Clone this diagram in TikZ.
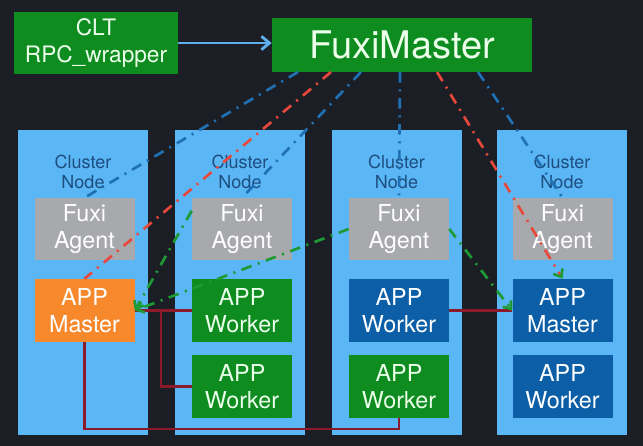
\documentclass[tikz,border=0pt]{standalone}
\usepackage{fontspec}
\setmainfont{TeX Gyre Heros}
\usetikzlibrary{arrows.meta,positioning}

\definecolor{bgdark}{HTML}{1B1E25}
\definecolor{colblue}{HTML}{5AB6F5}
\definecolor{agentgray}{HTML}{A8A9AC}
\definecolor{boxgreen}{HTML}{0E8C1F}
\definecolor{boxorange}{HTML}{F7882C}
\definecolor{boxblue}{HTML}{0C5EA6}
\definecolor{nodetext}{HTML}{1E4E80}
\definecolor{linkblue}{HTML}{2070B4}
\definecolor{linkred}{HTML}{E8483C}
\definecolor{linkgreen}{HTML}{1E9A34}
\definecolor{wirered}{HTML}{8C1A2A}
\definecolor{cltblue}{HTML}{5DAEEA}

\begin{document}
\begin{tikzpicture}[x=0.75pt, y=-0.75pt,
  column/.style={fill=colblue, minimum width=97.5pt, minimum height=228.75pt,
    inner sep=0pt},
  clabel/.style={text=nodetext, align=center, inner sep=0pt,
    font=\fontsize{13.5}{15.5}\selectfont},
  agent/.style={fill=agentgray, text=white, minimum width=75pt,
    minimum height=46.5pt, inner sep=0pt, align=center,
    font=\fontsize{17.5}{20}\selectfont},
  app/.style={text=white, minimum width=75pt, minimum height=47.25pt,
    inner sep=0pt, align=center, font=\fontsize{17.5}{20}\selectfont},
  topbox/.style={fill=boxgreen, text=green!8, inner sep=0pt, align=center},
  ctrl/.style={line width=2pt, dash pattern=on 8pt off 5pt on 1.5pt off 5pt},
  wire/.style={wirered, line width=1.6pt},
  tip/.style={-{Straight Barb[length=5pt, width=8pt, color=linkgreen]}}
]
% background and frame
\fill[bgdark] (0,0) rectangle (643,446);

% top row
\node[topbox, minimum width=123pt, minimum height=46.5pt,
  font=\fontsize{17}{20.5}\selectfont] (clt) at (96,43) {CLT\\RPC\_wrapper};
\node[topbox, minimum width=195pt, minimum height=40.5pt,
  font=\fontsize{28.5}{30}\selectfont] (fm) at (402,45) {FuxiMaster};
\draw[cltblue, line width=2.2pt, -{Straight Barb[length=6pt, width=10pt]}]
  (clt.east) -- (clt.east -| fm.west);

% cluster columns
\foreach \cx [count=\i] in {83,240,396.5,562} {
  \node[column] (col\i) at (\cx,282.5) {};
  \node[clabel] (cl\i) at (\cx,172) {Cluster\\Node};
}

% agents
\node[agent] (fa1) at (84.5,229) {Fuxi\\Agent};
\node[agent] (fa2) at (242,229) {Fuxi\\Agent};
\node[agent] (fa3) at (399,229) {Fuxi\\Agent};
\node[agent] (fa4) at (562.5,229) {Fuxi\\Agent};

% applications
\node[app, fill=boxorange] (am1) at (84.5,310.5) {APP\\Master};
\node[app, fill=boxgreen, text=green!8] (aw2a) at (242,310.5) {APP\\Worker};
\node[app, fill=boxgreen, text=green!8] (aw2b) at (242,386.5) {APP\\Worker};
\node[app, fill=boxblue] (aw3a) at (399,310.5) {APP\\Worker};
\node[app, fill=boxgreen, text=green!8] (aw3b) at (399,386.5) {APP\\Worker};
\node[app, fill=boxblue] (am4) at (562.5,310.5) {APP\\Master};
\node[app, fill=boxblue] (aw4) at (562.5,386.5) {APP\\Worker};

% master/worker wiring
\coordinate (br) at (161,310.5);
\draw[wire] (am1.east) -- (aw2a.west);
\draw[wire] (br) |- (aw2b.west);
\draw[wire] (am1.south) -- ++(0,87) -| (aw3b.south);
\draw[wire] (aw3a.east) -- (am4.west);

% control links from FuxiMaster
\coordinate (p1) at (298,72);
\coordinate (p2) at (331,72);
\coordinate (p3) at (361,72);
\coordinate (p4) at (400,72);
\coordinate (p5) at (437,72);
\coordinate (p6) at (478,72);
\draw[ctrl, linkblue] (p1) -- (fa1.north);
\draw[ctrl, linkred] (p2) -- (am1.north);
\draw[ctrl, linkblue] (p3) -- (fa2.north);
\draw[ctrl, linkblue] (p4) -- (fa3.north);
\draw[ctrl, linkred, tip] (p5) -- (am4.north);
\draw[ctrl, linkblue] (p6) -- (fa4.north);

% agent to master links
\draw[ctrl, linkgreen, tip] (fa2.160) -- (am1.east);
\draw[ctrl, linkgreen, tip] (fa3.west) -- (am1.east);
\draw[ctrl, linkgreen, tip] (fa3.east) -- (am4.west);
\end{tikzpicture}
\end{document}
